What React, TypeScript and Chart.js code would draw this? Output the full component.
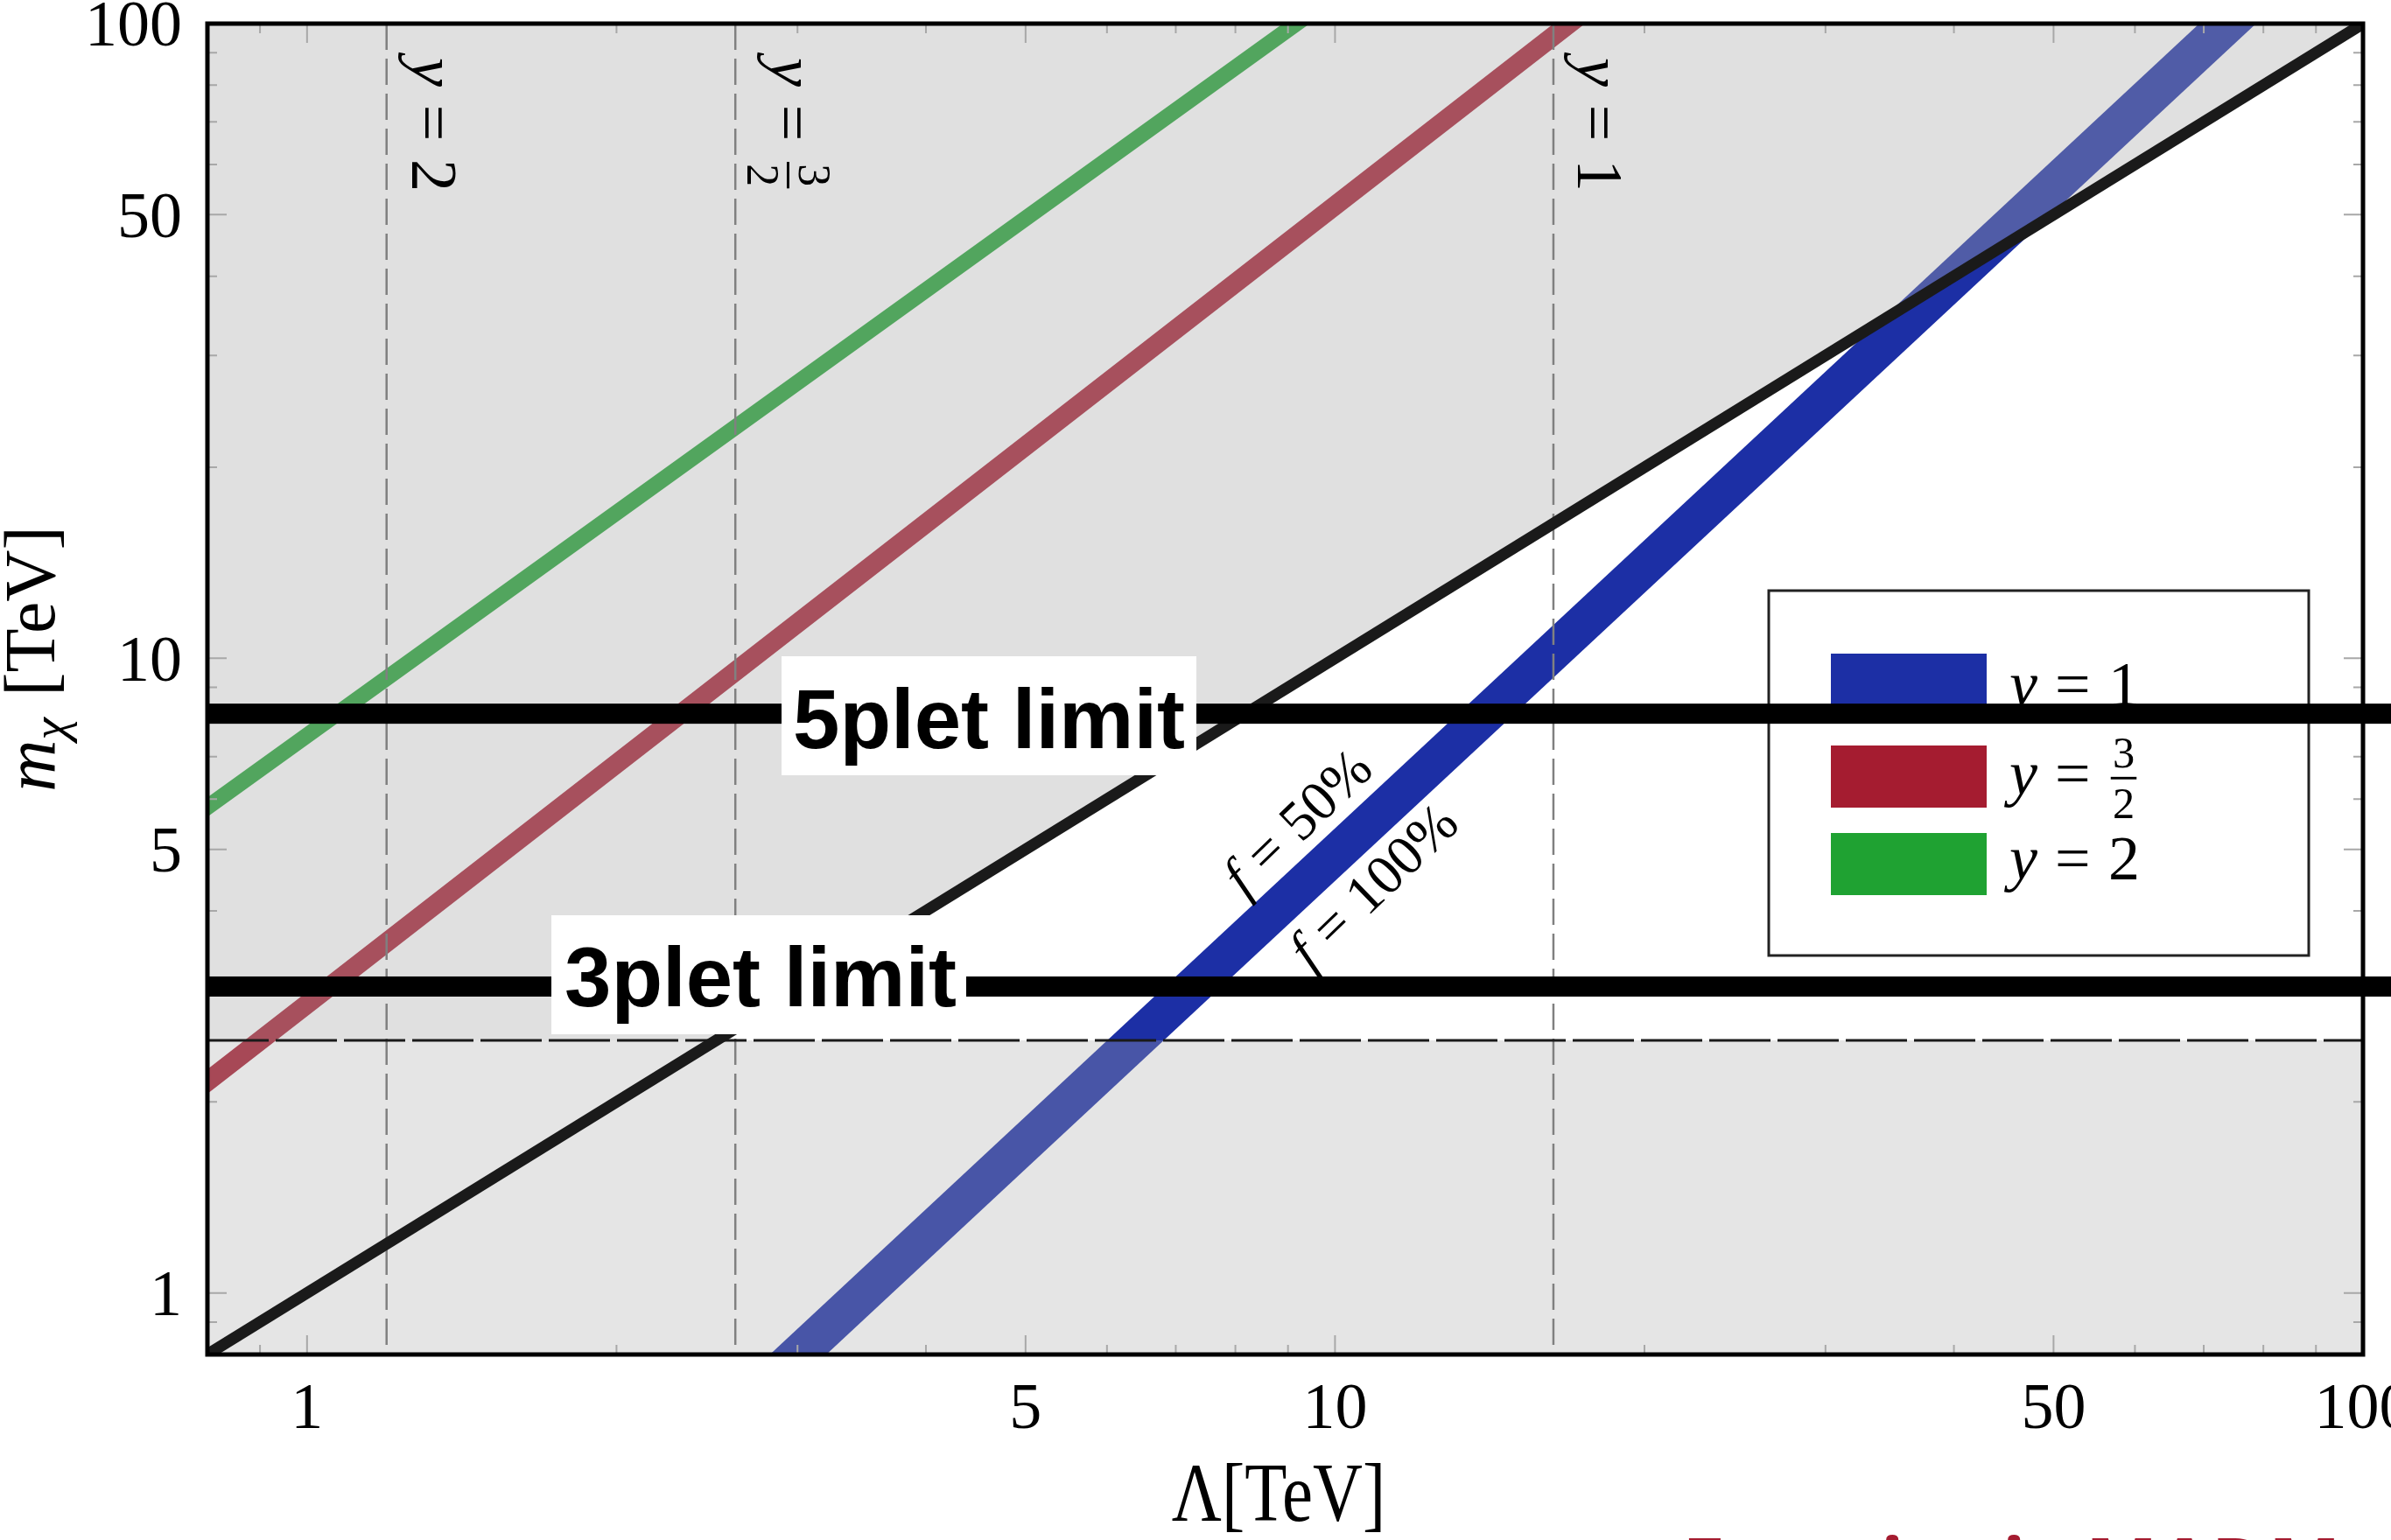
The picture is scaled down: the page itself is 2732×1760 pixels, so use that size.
import React, { useEffect, useRef } from "react";
import { Chart, registerables } from "chart.js";

Chart.register(...registerables);

const CANVAS_W = 2732;
const CANVAS_H = 1760;

// ---- axes ----
const AXIS_MIN = 0.8;
const AXIS_MAX = 100;
const TICK_VALUES = [1, 5, 10, 50, 100];
const MINOR_TICK_VALUES = [0.9, 2, 3, 4, 6, 7, 8, 9, 20, 30, 40, 60, 70, 80, 90];

// ---- y = 2 (green) ----
const GREEN_LAMBDA = [0.8, 9.17];
const GREEN_MASS = [5.83, 100];
// ---- y = 3/2 (red) ----
const RED_LAMBDA = [0.8, 16.9];
const RED_MASS = [2.154, 100];
// ---- y = 1 (blue band, f = 50% .. f = 100%) ----
const BLUE_MASS = [0.8, 100];
const BLUE_LAMBDA_F50 = [2.82, 69.3];
const BLUE_LAMBDA_F100 = [3.2, 78.7];
// ---- m = Lambda boundary ----
const BOUNDARY_LAMBDA = [0.8, 100];
const BOUNDARY_MASS = [0.8, 100];
// ---- lower mass bound ----
const LOWER_MASS_BOUND = [2.5];
// ---- hypercharge vertical lines ----
const HYPERCHARGE_LAMBDA = [1.195, 2.61, 16.31];
// ---- multiplet limits ----
const LIMIT_NAMES = ["5plet limit", "3plet limit"];
const LIMIT_MASS = [8.18, 3.04];
// ---- f labels ----
const F_LABELS = ["50%", "100%"];

// ---- styles / placement (not data) ----
const SERIF = '"Liberation Serif", "Times New Roman", serif';
const COLORS = {
  blue: "#1c2fa5",
  red: "#a51c30",
  green: "#1fa232",
  shadeTop: "rgba(172,172,172,0.37)",
  shadeBottom: "rgba(172,172,172,0.31)",
  boundary: "#1a1a1a",
  dash: "#808080",
  tick: "#a8a8a8",
};
const LIMIT_BOXES = [
  { left: 893, top: 750, width: 474, height: 136, textX: 906, baseline: 855 },
  { left: 630, top: 1046, width: 474, height: 136, textX: 645, baseline: 1150 },
];
const HYPER_LABEL_OFFSETS = [29, 41, 28];
const F_LABEL_POS = [
  { x: 9.21, y: 5.5 },
  { x: 10.92, y: 4.36 },
];

type MathPart = { t?: string; it?: boolean; sp?: number; frac?: [string, string]; scale?: number; dy?: number };

function mathRun(ctx: CanvasRenderingContext2D, parts: MathPart[], size: number, x0: number, y0: number, draw: boolean) {
  let x = x0;
  for (const p of parts) {
    if (p.sp !== undefined) {
      x += p.sp * size;
      continue;
    }
    if (p.frac) {
      const fs = size * 0.7;
      ctx.font = `${fs}px ${SERIF}`;
      const w = Math.max(ctx.measureText(p.frac[0]).width, ctx.measureText(p.frac[1]).width) + size * 0.14;
      if (draw) {
        ctx.textAlign = "center";
        ctx.fillText(p.frac[0], x + w / 2, y0 - 0.43 * size);
        ctx.fillText(p.frac[1], x + w / 2, y0 + 0.37 * size);
        ctx.fillRect(x + 0.04 * size, y0 - 0.26 * size - size * 0.02, w - 0.08 * size, size * 0.04);
        ctx.textAlign = "left";
      }
      x += w;
      continue;
    }
    const fs = size * (p.scale ?? 1);
    ctx.font = `${p.it ? "italic " : ""}${fs}px ${SERIF}`;
    if (draw) ctx.fillText(p.t as string, x, y0 + (p.dy ?? 0) * size);
    x += ctx.measureText(p.t as string).width;
  }
  return x - x0;
}

function hyperParts(label: string): MathPart[] {
  const base: MathPart[] = [{ t: "y", it: true }, { sp: 0.28 }, { t: "=" }, { sp: 0.28 }];
  if (label.includes("/")) {
    const [a, b] = label.split("/");
    base.push({ frac: [a, b] });
  } else base.push({ t: label });
  return base;
}

const pts = (xs: number[], ys: number[]) => xs.map((x, i) => ({ x, y: ys[i] }));

export default function App() {
  const ref = useRef<HTMLCanvasElement>(null);

  useEffect(() => {
    const canvas = ref.current;
    if (!canvas) return;
    const mb = LOWER_MASS_BOUND[0];
    // intersection of boundary line with lower mass bound (log interpolation)
    const t = (Math.log10(mb) - Math.log10(BOUNDARY_MASS[0])) / (Math.log10(BOUNDARY_MASS[1]) - Math.log10(BOUNDARY_MASS[0]));
    const cross = Math.pow(10, Math.log10(BOUNDARY_LAMBDA[0]) + t * (Math.log10(BOUNDARY_LAMBDA[1]) - Math.log10(BOUNDARY_LAMBDA[0])));

    const common = { showLine: true, pointRadius: 0, pointHoverRadius: 0, clip: 0, tension: 0 };
    const datasets: any[] = [
      { ...common, label: "boundary", order: 0, data: pts(BOUNDARY_LAMBDA, BOUNDARY_MASS), borderColor: COLORS.boundary, borderWidth: 13, borderCapStyle: "square", fill: false },
      { ...common, label: "lower", order: 1, data: [{ x: AXIS_MIN, y: mb }, { x: AXIS_MAX, y: mb }], borderColor: "#1a1a1a", borderWidth: 3, borderDash: [70, 8], fill: false },
      ...HYPERCHARGE_LAMBDA.map((l, i) => ({ ...common, label: "hy" + i, order: 1, data: [{ x: l, y: AXIS_MAX }, { x: l, y: AXIS_MIN }], borderColor: COLORS.dash, borderWidth: 2.5, borderDash: [30, 10], fill: false })),
      { ...common, label: "shadeTop", order: 2, data: [{ x: AXIS_MIN, y: mb }, { x: cross, y: mb }, { x: BOUNDARY_LAMBDA[1], y: BOUNDARY_MASS[1] }, { x: AXIS_MIN, y: AXIS_MAX }], borderWidth: 0, borderColor: "rgba(0,0,0,0)", backgroundColor: COLORS.shadeTop, fill: "shape" },
      { ...common, label: "shadeBottom", order: 3, data: [{ x: AXIS_MIN, y: mb }, { x: AXIS_MAX, y: mb }, { x: AXIS_MAX, y: AXIS_MIN }, { x: AXIS_MIN, y: AXIS_MIN }], borderWidth: 0, borderColor: "rgba(0,0,0,0)", backgroundColor: COLORS.shadeBottom, fill: "shape" },
      { ...common, label: "y=1", order: 4, data: [...pts(BLUE_LAMBDA_F50, BLUE_MASS), ...pts(BLUE_LAMBDA_F100, BLUE_MASS).reverse()], borderWidth: 0, borderColor: "rgba(0,0,0,0)", backgroundColor: COLORS.blue, fill: "shape" },
      { ...common, label: "y=3/2", order: 5, data: pts(RED_LAMBDA, RED_MASS), borderColor: COLORS.red, borderWidth: 22, borderCapStyle: "square", fill: false },
      { ...common, label: "y=2", order: 6, data: pts(GREEN_LAMBDA, GREEN_MASS), borderColor: COLORS.green, borderWidth: 18, borderCapStyle: "square", fill: false },
    ];

    const overlay = {
      id: "overlay",
      afterDraw(chart: any) {
        const ctx: CanvasRenderingContext2D = chart.ctx;
        const a = chart.chartArea;
        const xs = chart.scales.x;
        const ys = chart.scales.y;
        ctx.save();

        // inward ticks on all sides
        ctx.strokeStyle = COLORS.tick;
        ctx.lineWidth = 2;
        const all: [number, number][] = [...TICK_VALUES.map((v) => [v, 22] as [number, number]), ...MINOR_TICK_VALUES.map((v) => [v, 11] as [number, number])];
        ctx.beginPath();
        for (const [v, len] of all) {
          const px = xs.getPixelForValue(v);
          if (px > a.left + 2 && px < a.right - 2) {
            ctx.moveTo(px, a.bottom); ctx.lineTo(px, a.bottom - len);
            ctx.moveTo(px, a.top); ctx.lineTo(px, a.top + len);
          }
          const py = ys.getPixelForValue(v);
          if (py > a.top + 2 && py < a.bottom - 2) {
            ctx.moveTo(a.left, py); ctx.lineTo(a.left + len, py);
            ctx.moveTo(a.right, py); ctx.lineTo(a.right - len, py);
          }
        }
        ctx.stroke();

        // frame
        ctx.strokeStyle = "#000";
        ctx.lineWidth = 5;
        ctx.strokeRect(a.left, a.top, a.right - a.left, a.bottom - a.top);

        ctx.fillStyle = "#000";
        ctx.textBaseline = "alphabetic";
        ctx.textAlign = "left";

        // hypercharge rotated labels
        const hyLabels = ["2", "3/2", "1"];
        HYPERCHARGE_LAMBDA.forEach((l, i) => {
          const px = xs.getPixelForValue(l);
          ctx.save();
          ctx.translate(px + HYPER_LABEL_OFFSETS[i], a.top + 39);
          ctx.rotate(Math.PI / 2);
          mathRun(ctx, hyperParts(hyLabels[i]), 74, 0, 0, true);
          ctx.restore();
        });

        // f labels along the blue band
        F_LABELS.forEach((lab, i) => {
          const px = xs.getPixelForValue(F_LABEL_POS[i].x);
          const py = ys.getPixelForValue(F_LABEL_POS[i].y);
          const parts: MathPart[] = [{ t: "f", it: true }, { sp: 0.28 }, { t: "=" }, { sp: 0.28 }, { t: lab }];
          ctx.save();
          ctx.translate(px, py);
          ctx.rotate((-44 * Math.PI) / 180);
          const w = mathRun(ctx, parts, 64, 0, 0, false);
          mathRun(ctx, parts, 64, -w / 2, 0.3 * 64, true);
          ctx.restore();
        });

        // legend
        ctx.fillStyle = "#fff";
        ctx.fillRect(2021, 675, 617, 417);
        ctx.strokeStyle = "#222";
        ctx.lineWidth = 3;
        ctx.strokeRect(2021, 675, 617, 417);
        const legItems = [
          { c: COLORS.blue, lab: "1" },
          { c: COLORS.red, lab: "3/2" },
          { c: COLORS.green, lab: "2" },
        ];
        const swTops = [747, 852, 952];
        const baselines = [806, 908, 1005];
        legItems.forEach((it, i) => {
          ctx.fillStyle = it.c;
          ctx.fillRect(2092, swTops[i], 178, 71);
          ctx.fillStyle = "#000";
          mathRun(ctx, hyperParts(it.lab), 72, 2296, baselines[i], true);
        });

        // limit lines with labels
        LIMIT_MASS.forEach((m, i) => {
          const py = ys.getPixelForValue(m);
          ctx.fillStyle = "#000";
          ctx.fillRect(a.left, py - 11.5, CANVAS_W - a.left, 23);
          const b = LIMIT_BOXES[i];
          ctx.fillStyle = "#fff";
          ctx.fillRect(b.left, b.top, b.width, b.height);
          ctx.fillStyle = "#000";
          ctx.font = 'bold 96px "Liberation Sans", Arial, sans-serif';
          ctx.fillText(LIMIT_NAMES[i], b.textX, b.baseline);
        });

        // y axis title
        ctx.fillStyle = "#000";
        ctx.save();
        ctx.translate(62, 753);
        ctx.rotate(-Math.PI / 2);
        const yParts: MathPart[] = [{ t: "m", it: true }, { t: "χ", it: true, scale: 0.7, dy: 0.17 }, { sp: 0.3 }, { t: "[TeV]" }];
        const yw = mathRun(ctx, yParts, 82, 0, 0, false);
        mathRun(ctx, yParts, 82, -yw / 2, 0, true);
        ctx.restore();

        // x axis title
        ctx.save();
        ctx.translate(1461, 1738);
        ctx.scale(0.83, 1);
        ctx.font = `95px ${SERIF}`;
        ctx.textAlign = "center";
        ctx.fillText("Λ[TeV]", 0, 0);
        ctx.restore();

        // slide title peeking in at the bottom
        ctx.fillStyle = "#a51c30";
        ctx.font = '700 88px "Open Sans", sans-serif';
        ctx.textAlign = "left";
        ctx.fillText("Fermionic MADM", 1922, 1821);

        ctx.restore();
      },
    };

    const tickFont = { family: SERIF, size: 74 };
    const chart = new Chart(canvas, {
      type: "scatter",
      data: { datasets },
      plugins: [overlay],
      options: {
        responsive: false,
        animation: false,
        devicePixelRatio: 1,
        layout: { padding: { top: 27, right: 32, left: 0, bottom: 0 } },
        plugins: { legend: { display: false }, tooltip: { enabled: false }, title: { display: false } },
        events: [],
        scales: {
          x: {
            type: "logarithmic",
            min: AXIS_MIN,
            max: AXIS_MAX,
            bounds: "data",
            position: "bottom",
            grid: { display: false },
            border: { display: false },
            afterBuildTicks: (s: any) => {
              s.ticks = TICK_VALUES.map((v) => ({ value: v }));
            },
            afterFit: (s: any) => {
              s.height = 212;
              s.paddingLeft = 0;
              s.paddingRight = 0;
            },
            ticks: {
              autoSkip: false,
              maxRotation: 0,
              minRotation: 0,
              padding: 12,
              color: "#000",
              font: tickFont,
              callback: (v: any) => String(v),
            },
          },
          y: {
            type: "logarithmic",
            min: AXIS_MIN,
            max: AXIS_MAX,
            bounds: "data",
            position: "left",
            grid: { display: false },
            border: { display: false },
            afterBuildTicks: (s: any) => {
              s.ticks = TICK_VALUES.map((v) => ({ value: v }));
            },
            afterFit: (s: any) => {
              s.width = 237;
              s.paddingTop = 0;
              s.paddingBottom = 0;
            },
            ticks: {
              autoSkip: false,
              padding: 21,
              labelOffset: 6,
              color: "#000",
              font: tickFont,
              callback: (v: any) => String(v),
            },
          },
        },
      } as any,
    });
    return () => chart.destroy();
  }, []);

  return (
    <div style={{ position: "fixed", left: 0, top: 0, width: CANVAS_W, height: CANVAS_H, background: "#fff" }}>
      <canvas ref={ref} width={CANVAS_W} height={CANVAS_H} style={{ display: "block", width: CANVAS_W, height: CANVAS_H }} />
    </div>
  );
}
